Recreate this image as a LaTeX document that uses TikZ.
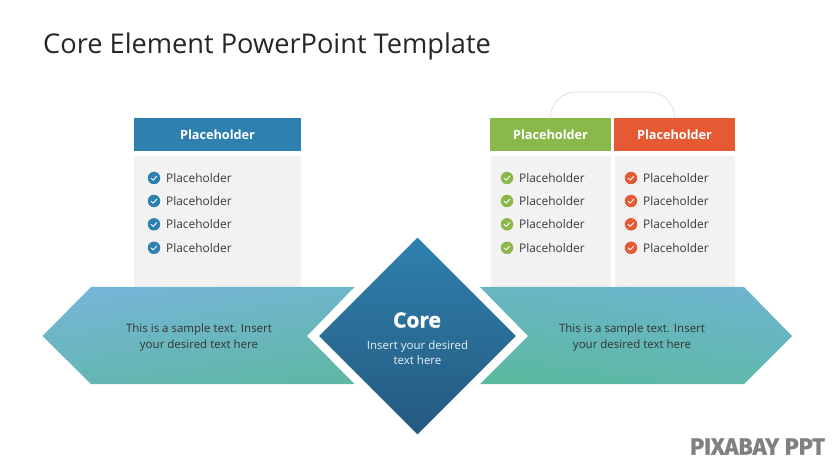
\documentclass[tikz,border=0pt]{standalone}
\usepackage{fontspec}
\setmainfont{Open Sans}
\newfontfamily\heavyfont[BoldFeatures={FakeBold=1.3}]{Open Sans}
\newfontfamily\markfont[BoldFeatures={FakeBold=1.2}]{Fira Sans}
\usetikzlibrary{positioning, shapes.geometric}
\definecolor{coreblue}{HTML}{2E80AE}
\definecolor{coredark}{HTML}{25597F}
\definecolor{leafgreen}{HTML}{8AB84B}
\definecolor{flame}{HTML}{E65A33}
\definecolor{panel}{HTML}{F2F2F2}
\definecolor{inktext}{HTML}{3A3A3A}
\definecolor{skyband}{HTML}{76B5D8}
\definecolor{seaband}{HTML}{5FB7A6}
\definecolor{tealband}{HTML}{6EB5CF}
\definecolor{mintband}{HTML}{5BB9A0}

\begin{document}
\begin{tikzpicture}[x=1pt,y=-1pt,node distance=5pt,
      head/.style={minimum height=33pt,inner sep=0pt,text=white,font=\fontsize{12.7}{15}\selectfont\bfseries},
      panelbox/.style={fill=panel,minimum height=131pt,inner sep=0pt},
      item/.style={anchor=west,inner sep=0pt,text=inktext,font=\fontsize{11.9}{14}\selectfont},
      blurb/.style={align=center,text=black!80,font=\fontsize{11.5}{16}\selectfont},
      tick/.style={draw=white,line width=0.9pt,line cap=round,line join=round}]
      \useasboundingbox (0,0) rectangle (835,470);
      \node[anchor=west,inner sep=0pt,text=black!85,font=\fontsize{27.2}{32}\selectfont] (title) at (43,46) {Core Element PowerPoint Template};

      % column heads and their panels
      \node[head,fill=coreblue,minimum width=167pt] (bluehead) at (217.5,134.5) {Placeholder};
      \node[head,fill=leafgreen,minimum width=121pt] (greenhead) at (550.5,134.5) {Placeholder};
      \node[head,fill=flame,minimum width=121pt] (redhead) at (674.5,134.5) {Placeholder};
      \node[panelbox,minimum width=167pt,below=of bluehead] (bluebody) {};
      \node[panelbox,minimum width=120pt,below=of greenhead] (greenbody) {};
      \node[panelbox,minimum width=120pt,below=of redhead] (redbody) {};

      % link over the two right heads
      \draw[black!12,line width=0.8pt,rounded corners=24pt] (greenhead.north) -- (551.5,92) -- (673.5,92) -- (redhead.north);

      % bullet lists
      \foreach \name/\col/\xpos in {blue/coreblue/154,green/leafgreen/507,red/flame/631}
        \foreach \row/\ypos in {1/178,2/201,3/224.3,4/247.8} {
          \node[circle,fill=\col,minimum size=12.5pt,inner sep=0pt] (\name dot\row) at (\xpos,\ypos) {};
          \draw[tick] ([shift={(-2.8,0.1)}]\name dot\row.center) -- ++(2,2) -- ++(3.5,-3.8);
          \node[item,right=5.5pt of \name dot\row] (\name item\row) {Placeholder};
        }

      % the two side bands
      \shade[top color=skyband,bottom color=seaband,shading angle=8]
        (42.5,336) -- (91,287) -- (354.5,287) -- (307,336) -- (354.5,384) -- (91,384) -- cycle;
      \shade[top color=tealband,bottom color=mintband,shading angle=-8]
        (480,287) -- (744,287) -- (792,336) -- (744,384) -- (480,384) -- (528,336) -- cycle;
      \node[blurb] (lefttext) at (199,338) {This is a sample text. Insert\\your desired text here};
      \node[blurb] (righttext) at (632,338) {This is a sample text. Insert\\your desired text here};

      % centre
      \node[diamond,aspect=1,inner sep=0pt,minimum width=197pt,minimum height=197pt,top color=coreblue,bottom color=coredark] (core) at (417.5,336) {};
      \node[text=white,font=\heavyfont\fontsize{21}{24}\selectfont\bfseries] (coretitle) at (417,320) {Core};
      \node[align=center,text=white!90!coreblue,font=\fontsize{11.5}{14.5}\selectfont] (coretext) at (417.5,352.5) {Insert your desired\\text here};

      \node[anchor=east,inner sep=0pt,text=black!50,font=\markfont\fontsize{23.4}{26}\selectfont\bfseries] (mark) at (825,446.5) {PIXABAY PPT};
    \end{tikzpicture}
\end{document}
